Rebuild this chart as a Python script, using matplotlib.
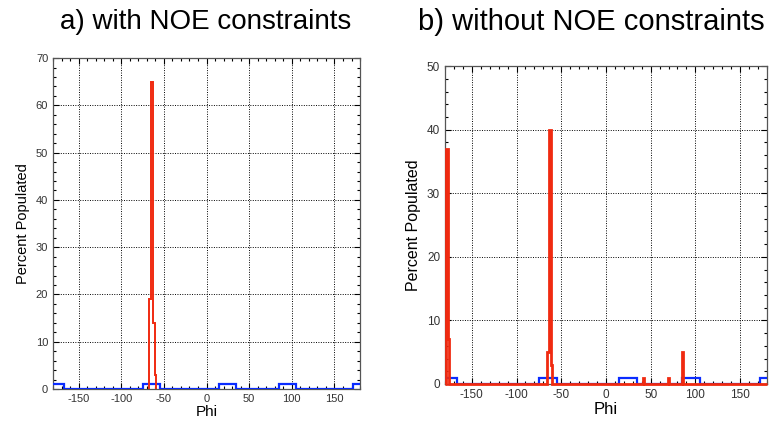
import matplotlib
matplotlib.use("Agg")
import matplotlib.pyplot as plt
from matplotlib.ticker import MultipleLocator

plt.rcParams['font.family'] = ['Liberation Sans', 'DejaVu Sans']
plt.rcParams['axes.unicode_minus'] = False

# ---- data ----
titles = ["a) with NOE constraints", "b) without NOE constraints"]
xlabel = "Phi"
ylabel = "Percent Populated"

blue_edges = [-180, -167, -75, -55, 15, 35, 85, 105, 172, 180]
blue_values = [1, 0, 1, 0, 1, 0, 1, 0, 1]

left_red_edges = [-67, -65, -63, -61, -59.5]
left_red_values = [19, 65, 14, 3]

right_red_edges = [-180, -178.5, -176.5, -175, -65.5, -64, -62, -60.5,
                   41.5, 43, 69, 70.5, 84.5, 86.5, 180]
right_red_values = [0, 37, 7, 0, 5, 40, 3, 0, 1, 0, 1, 0, 5, 0]

left_ymax = 70
right_ymax = 50

# ---- figure ----
fig = plt.figure(figsize=(7.72, 4.21), dpi=100)
axL = fig.add_axes([0.0687, 0.076, 0.3977, 0.786])
axR = fig.add_axes([0.5764, 0.088, 0.417, 0.755])

blue = '#0a2cff'
red = '#f02a10'

axL.stairs(blue_values, blue_edges, color=blue, lw=1.6, baseline=None, zorder=3)
axL.stairs(left_red_values, left_red_edges, color=red, lw=1.4, baseline=0, zorder=4)

axR.stairs(blue_values, blue_edges, color=blue, lw=1.6, baseline=None, zorder=3)
axR.stairs(right_red_values, right_red_edges, color=red, lw=2.0, baseline=None,
           zorder=4, clip_on=False)

for ax, ymax, fs_tick, fs_lab in [(axL, left_ymax, 8, 10.5), (axR, right_ymax, 8.5, 11.5)]:
    ax.set_xlim(-180, 180)
    ax.set_ylim(0, ymax)
    ax.xaxis.set_major_locator(MultipleLocator(50))
    ax.xaxis.set_minor_locator(MultipleLocator(10))
    ax.yaxis.set_major_locator(MultipleLocator(10))
    ax.yaxis.set_minor_locator(MultipleLocator(2))
    ax.tick_params(which='both', direction='in', top=True, right=True,
                   labelsize=fs_tick, labelcolor='#333333', width=0.8)
    ax.tick_params(which='major', length=4)
    ax.tick_params(which='minor', length=2.5)
    ax.grid(True, which='major', color='black', linestyle=(0, (1, 1.5)), lw=0.7)
    for s in ax.spines.values():
        s.set_color('#555555')
        s.set_linewidth(0.9)
    ax.set_xlabel(xlabel, fontsize=fs_lab + 0.5, labelpad=1)
    ax.set_ylabel(ylabel, fontsize=fs_lab, labelpad=4)

fig.text(0.267, 0.947, titles[0], fontsize=20, ha='center', va='center')
fig.text(0.766, 0.947, titles[1], fontsize=21, ha='center', va='center')

fig.savefig("out.png", dpi=100)
